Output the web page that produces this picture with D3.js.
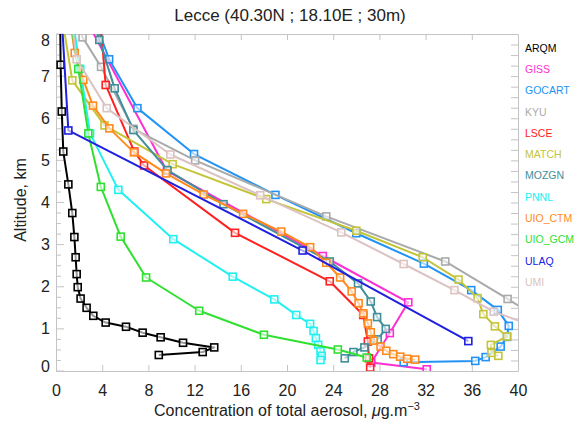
<!DOCTYPE html>
<html>
<head>
<meta charset="utf-8">
<script src="https://cdn.jsdelivr.net/npm/d3@7"></script>
<style>
  body { margin: 0; background: #fff; }
  text { font-family: "Liberation Sans", Arial, sans-serif; }
</style>
</head>
<body>
<svg id="chart" width="574" height="422"></svg>
<script>
// concentration (ug/m3), altitude (km) pairs for each model
const arqm = [[0.35,8.6],[0.4,7.27],[0.5,6.16],[0.63,5.21],[1.07,4.43],[1.41,3.75],[1.59,3.18],[1.7,2.7],[1.79,2.3],[1.88,1.99],[2.13,1.72],[2.65,1.5],[3.23,1.31],[4.3,1.15],[6.06,1.05],[7.5,0.91],[9.06,0.8],[11.0,0.67],[13.7,0.56],[12.7,0.45],[8.9,0.38]];
const giss = [[2.1,8.6],[9.6,4.75],[23.1,2.73],[30.5,1.63],[28.9,0.9],[27.3,0.2],[32.1,0.04]];
const gocart = [[3.0,8.6],[4.6,7.4],[7.05,6.24],[11.95,5.15],[19.0,4.18],[26.0,3.27],[31.85,2.55],[35.95,1.92],[38.25,1.45],[39.2,1.07],[39.05,0.81],[38.5,0.58],[37.2,0.33],[36.3,0.24],[30.1,0.21]];
const kyu = [[1.6,8.6],[2.3,7.92],[3.9,7.22],[6.7,5.75],[12.05,5.0],[23.4,3.67],[33.7,2.6],[39.1,1.71],[41.5,1.3]];
const lsce = [[3.75,8.6],[4.3,6.79],[6.78,5.21],[7.62,4.88],[15.5,3.28],[23.7,2.13],[26.6,1.33],[27.0,0.7],[27.1,0.3],[27.2,0.08]];
const match = [[0.4,8.6],[1.41,6.9],[4.2,5.83],[10.1,4.91],[18.2,4.08],[26.0,3.33],[31.75,2.7],[34.85,2.17],[36.5,1.73],[37.0,1.35],[38.0,1.06],[39.05,0.82],[37.65,0.62],[37.7,0.43],[38.3,0.36]];
const mozgn = [[2.9,8.6],[3.75,7.86],[5.08,6.71],[6.7,5.72],[9.65,4.77],[14.5,3.96],[23.7,2.6],[26.15,2.08],[27.25,1.65],[27.8,1.28],[28.55,1.0],[27.85,0.75],[26.7,0.56],[25.75,0.45],[25.0,0.3]];
const pnnl = [[1.3,8.6],[2.1,7.17],[2.95,5.64],[5.4,4.3],[10.16,3.13],[15.3,2.24],[18.9,1.7],[20.8,1.33],[22.0,1.12],[22.3,0.95],[22.5,0.78],[22.7,0.62],[22.9,0.47],[23.0,0.36],[22.9,0.26]];
const uioCtm = [[1.2,8.4],[1.62,7.55],[2.36,6.91],[3.2,6.3],[4.62,5.76],[6.75,5.19],[9.52,4.69],[12.78,4.19],[16.2,3.73],[19.5,3.31],[22.0,2.94],[23.4,2.57],[24.6,2.22],[25.6,1.89],[26.2,1.61],[26.6,1.37],[27.0,1.13],[27.25,0.92],[27.5,0.72],[28.1,0.58],[28.6,0.48],[29.2,0.4],[29.8,0.34],[30.4,0.29],[31.1,0.27]];
const uioGcm = [[1.1,8.6],[1.93,7.17],[2.8,5.64],[3.88,4.37],[5.6,3.19],[7.8,2.22],[12.4,1.43],[18.0,0.86],[24.4,0.51],[26.9,0.32]];
const ulaq = [[0.45,8.6],[1.07,5.71],[21.35,2.86],[35.7,0.71]];
const umi = [[1.2,8.6],[1.79,7.4],[4.39,6.24],[9.9,5.14],[17.68,4.17],[24.7,3.29],[30.1,2.54],[34.5,1.92],[37.9,1.41],[41.5,1.05]];

const modelNames = ["ARQM","GISS","GOCART","KYU","LSCE","MATCH","MOZGN","PNNL","UIO_CTM","UIO_GCM","ULAQ","UMI"];
const modelColors = ["#000000","#ff2ed2","#2293f5","#aaaaaa","#ff2020","#c4c43a","#3f8e99","#22f0f0","#ff8a1c","#30e030","#2020e0","#dcc2c2"];
const modelData = [arqm,giss,gocart,kyu,lsce,match,mozgn,pnnl,uioCtm,uioGcm,ulaq,umi];

const xTicks = [0,4,8,12,16,20,24,28,32,36,40];
const yTicks = [0,1,2,3,4,5,6,7,8];

const svg = d3.select("#chart");
const x = d3.scaleLinear().domain([0,40]).range([56,518]);
const y = d3.scaleLinear().domain([0,8]).range([371,34]);
const frame = "#c4c4c4";

svg.append("defs").append("clipPath").attr("id","clip")
  .append("rect").attr("x",56).attr("y",34).attr("width",462).attr("height",337);

// axes, ticks pointing inward
const minor = d3.range(0,8.01,0.25);
svg.append("g").attr("transform","translate(0,371)")
  .call(d3.axisBottom(x).tickValues(xTicks).tickSizeInner(-6).tickSizeOuter(0).tickPadding(14).tickFormat(d3.format("d")));
svg.append("g").attr("transform","translate(0,34)")
  .call(d3.axisTop(x).tickValues(xTicks.slice(1,-1)).tickSizeInner(-6).tickSizeOuter(0).tickFormat(""));
svg.append("g").attr("transform","translate(56,0)")
  .call(d3.axisLeft(y).tickValues([]).tickSizeOuter(0));
svg.append("g").attr("transform","translate(518,0)")
  .call(d3.axisRight(y).tickValues(minor).tickSizeInner(-7).tickSizeOuter(0).tickFormat(""));

svg.selectAll(".domain").attr("stroke",frame);
svg.selectAll(".tick line").attr("stroke",frame);
svg.selectAll(".tick text").attr("font-size",16).attr("fill","#222").attr("font-family","Liberation Sans, Arial, sans-serif");

// left ticks: longer at whole km
svg.append("g").selectAll("line").data(minor).join("line")
  .attr("x1",56).attr("x2",d => d % 1 === 0 ? 64 : 61)
  .attr("y1",d => y(d)).attr("y2",d => y(d)).attr("stroke",frame);

svg.append("g").selectAll("text").data(yTicks).join("text")
  .attr("x",50).attr("y",d => Math.min(366, Math.max(40, y(d))))
  .attr("dy","0.35em").attr("text-anchor","end").attr("font-size",16).attr("fill","#222")
  .text(d => d);

// series
const line = d3.line().x(d => x(d[0])).y(d => y(d[1]));
const plot = svg.append("g").attr("clip-path","url(#clip)");
modelData.forEach((pts, i) => {
  const g = plot.append("g");
  g.append("path").datum(pts).attr("d",line).attr("fill","none")
    .attr("stroke",modelColors[i]).attr("stroke-width",2).attr("stroke-linejoin","round");
  g.selectAll("rect").data(pts).join("rect")
    .attr("x",d => x(d[0]) - 3.5).attr("y",d => y(d[1]) - 3.5)
    .attr("width",7).attr("height",7).attr("fill","#fff").attr("fill-opacity",0.6)
    .attr("stroke",modelColors[i]).attr("stroke-width",1.6);
});

// legend
svg.append("g").selectAll("text").data(modelNames).join("text")
  .attr("x",525).attr("y",(d,i) => 48 + i*21.3).attr("dy","0.35em")
  .attr("font-size",10.5).attr("fill",(d,i) => modelColors[i])
  .text(d => d);

// titles
svg.append("text").attr("x",290).attr("y",21).attr("text-anchor","middle")
  .attr("font-size",17).attr("fill","#222").text("Lecce (40.30N ; 18.10E ; 30m)");

const xt = svg.append("text").attr("x",287).attr("y",416).attr("text-anchor","middle")
  .attr("font-size",16).attr("fill","#222");
xt.append("tspan").text("Concentration of total aerosol, ");
xt.append("tspan").attr("font-style","italic").text("μ");
xt.append("tspan").text("g.m");
xt.append("tspan").attr("dy",-6).attr("font-size",11).text("−3");

svg.append("text").attr("transform","translate(26,200) rotate(-90)").attr("text-anchor","middle")
  .attr("font-size",16).attr("fill","#222").text("Altitude, km");
</script>
</body>
</html>
